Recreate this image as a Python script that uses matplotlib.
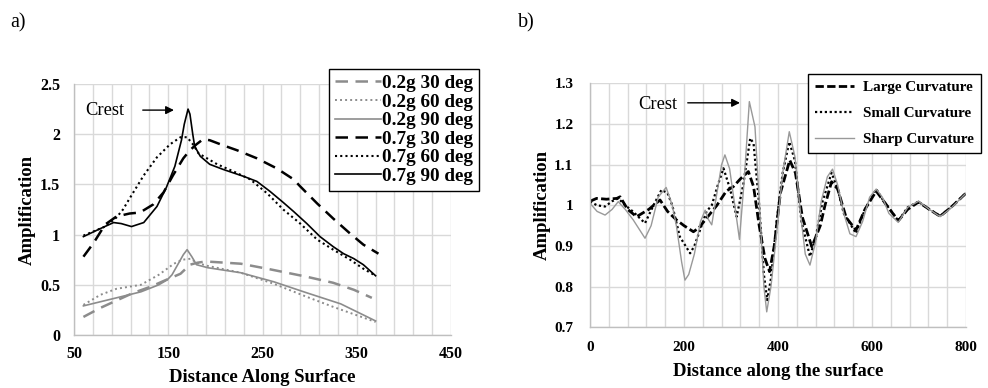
import numpy as np
import matplotlib
matplotlib.use("Agg")
import matplotlib.pyplot as plt
import matplotlib.ticker as ticker

plt.rcParams['font.family'] = ['Liberation Serif', 'DejaVu Serif']

# ---- panel a) : amplification along surface ----
g02_30_x = [60, 78, 92, 113, 131, 148, 163, 173, 181, 188, 194, 227, 255, 297, 325, 347, 366]
g02_30_y = [0.18, 0.27, 0.33, 0.42, 0.48, 0.55, 0.61, 0.70, 0.72, 0.73, 0.73, 0.71, 0.66, 0.58, 0.52, 0.45, 0.37]

g02_60_x = [60, 78, 95, 121, 140, 156, 165, 174, 180, 191, 227, 262, 297, 325, 343, 370]
g02_60_y = [0.30, 0.40, 0.46, 0.50, 0.60, 0.71, 0.75, 0.76, 0.72, 0.69, 0.62, 0.51, 0.38, 0.28, 0.22, 0.13]

g02_90_x = [60, 95, 121, 140, 149, 154, 160, 166, 170, 175, 180, 192, 227, 262, 297, 333, 370]
g02_90_y = [0.29, 0.37, 0.43, 0.50, 0.55, 0.60, 0.70, 0.80, 0.85, 0.78, 0.70, 0.67, 0.62, 0.53, 0.42, 0.31, 0.14]

g07_30_x = [60, 71, 83, 95, 109, 120, 134, 145, 155, 166, 173, 180, 187, 194, 208, 223, 244, 265, 283, 290, 308, 325, 343, 357, 373]
g07_30_y = [0.78, 0.92, 1.10, 1.18, 1.21, 1.22, 1.30, 1.42, 1.59, 1.76, 1.84, 1.90, 1.95, 1.94, 1.89, 1.84, 1.76, 1.66, 1.55, 1.48, 1.31, 1.16, 1.01, 0.90, 0.81]

g07_60_x = [60, 83, 95, 102, 109, 124, 138, 152, 163, 170, 177, 182, 202, 219, 237, 255, 272, 290, 308, 325, 343, 357, 370]
g07_60_y = [0.99, 1.08, 1.17, 1.25, 1.36, 1.59, 1.77, 1.90, 1.97, 1.97, 1.89, 1.81, 1.70, 1.63, 1.55, 1.41, 1.25, 1.11, 0.95, 0.85, 0.75, 0.66, 0.59]

g07_90_x = [60, 78, 92, 100, 111, 124, 138, 148, 157, 164, 167, 171, 173, 176, 178, 184, 194, 208, 230, 244, 258, 272, 283, 297, 311, 325, 336, 347, 357, 370]
g07_90_y = [0.98, 1.06, 1.12, 1.11, 1.08, 1.12, 1.28, 1.47, 1.68, 1.94, 2.10, 2.25, 2.20, 2.00, 1.88, 1.78, 1.70, 1.65, 1.58, 1.53, 1.43, 1.32, 1.23, 1.11, 0.98, 0.88, 0.81, 0.76, 0.70, 0.59]

# ---- panel b) : curvature comparison ----
large_x = [0, 14, 35, 57, 64, 80, 99, 125, 149, 165, 184, 200, 220, 232, 245, 270, 290, 305, 320, 337, 348, 360, 372, 382, 392,
           405, 425, 437, 452, 472, 490, 500, 514, 527, 545, 566, 585, 609, 625, 656, 676, 699, 722, 745, 770, 800]
large_y = [1.01, 1.017, 1.015, 1.017, 1.021, 0.99, 0.972, 0.99, 1.013, 0.985, 0.964, 0.95, 0.935, 0.945, 0.964, 1.0, 1.035,
           1.046, 1.065, 1.083, 1.046, 0.95, 0.87, 0.837, 0.9, 1.03, 1.111, 1.08, 0.97, 0.898, 0.95, 1.0, 1.058, 1.04, 0.97,
           0.939, 0.99, 1.035, 1.01, 0.962, 0.99, 1.008, 0.99, 0.973, 0.997, 1.03]

small_x = [0, 15, 32, 47, 60, 75, 92, 117, 135, 152, 165, 175, 191, 213, 222, 234, 248, 259, 272, 284, 298, 312, 326, 341,
           348, 360, 370, 377, 385, 397, 410, 424, 436, 450, 468, 480, 495, 514, 527, 540, 566, 585, 609, 625, 656, 676,
           699, 722, 745, 770, 800]
small_y = [1.009, 1.0, 0.997, 1.01, 1.017, 1.0, 0.984, 0.956, 1.0, 1.038, 1.03, 1.0, 0.923, 0.882, 0.9, 0.939, 0.985, 1.0,
           1.05, 1.091, 1.04, 0.972, 1.05, 1.165, 1.152, 1.0, 0.83, 0.767, 0.82, 0.96, 1.08, 1.156, 1.11, 0.96, 0.874, 0.92,
           1.01, 1.08, 1.04, 0.98, 0.931, 0.99, 1.04, 1.01, 0.962, 0.995, 1.009, 0.99, 0.974, 0.997, 1.03]

sharp_x = [0, 15, 32, 47, 60, 75, 92, 117, 130, 145, 162, 175, 184, 195, 202, 210, 222, 235, 245, 252, 259, 270, 280, 287,
           297, 308, 318, 328, 339, 351, 362, 370, 376, 385, 397, 410, 424, 436, 448, 458, 468, 480, 492, 505, 516, 527,
           540, 553, 566, 580, 595, 609, 622, 636, 656, 676, 699, 722, 745, 770, 800]
sharp_y = [1.005, 0.985, 0.976, 0.99, 1.009, 0.99, 0.964, 0.919, 0.95, 1.02, 1.044, 1.0, 0.948, 0.86, 0.816, 0.83, 0.88,
           0.96, 0.988, 0.965, 0.952, 1.03, 1.10, 1.124, 1.09, 1.0, 0.916, 1.06, 1.255, 1.193, 0.972, 0.80, 0.738, 0.80,
           0.93, 1.08, 1.181, 1.12, 0.98, 0.88, 0.853, 0.91, 1.01, 1.07, 1.089, 1.05, 0.98, 0.93, 0.923, 0.96, 1.02, 1.04,
           1.02, 0.98, 0.958, 0.995, 1.01, 0.99, 0.972, 0.995, 1.03]

gray = '#8c8c8c'
grid_c = '#d9d9d9'

fig = plt.figure(figsize=(9.88, 3.88), dpi=100)
ax1 = fig.add_axes([0.0749, 0.1366, 0.3816, 0.6469])
ax2 = fig.add_axes([0.5972, 0.1564, 0.3805, 0.6289])


def style_axes(ax):
    for s in ['top', 'right']:
        ax.spines[s].set_visible(False)
    for s in ['left', 'bottom']:
        ax.spines[s].set_color('#bfbfbf')
        ax.spines[s].set_linewidth(1.0)
    ax.set_axisbelow(True)
    ax.tick_params(which='both', length=0)
    for lab in ax.get_xticklabels() + ax.get_yticklabels():
        lab.set_fontweight('bold')


# panel a
ax1.plot(g02_30_x, g02_30_y, color=gray, lw=1.8, dashes=(5, 3), label='0.2g 30 deg')
ax1.plot(g02_60_x, g02_60_y, color=gray, lw=1.4, linestyle=(0, (1, 1.6)), label='0.2g 60 deg')
ax1.plot(g02_90_x, g02_90_y, color=gray, lw=1.2, label='0.2g 90 deg')
ax1.plot(g07_30_x, g07_30_y, color='black', lw=1.8, dashes=(5, 3), label='0.7g 30 deg')
ax1.plot(g07_60_x, g07_60_y, color='black', lw=1.5, linestyle=(0, (1, 1.5)), label='0.7g 60 deg')
ax1.plot(g07_90_x, g07_90_y, color='black', lw=1.2, label='0.7g 90 deg')

ax1.set_xlim(50, 450)
ax1.set_ylim(0, 2.5)
ax1.xaxis.set_major_locator(ticker.FixedLocator([50, 150, 250, 350, 450]))
ax1.xaxis.set_minor_locator(ticker.FixedLocator(np.arange(50, 451, 20)))
ax1.yaxis.set_major_locator(ticker.MultipleLocator(0.5))
ax1.yaxis.set_major_formatter(ticker.FuncFormatter(lambda v, p: f'{v:g}'))
ax1.grid(axis='x', which='both', color=grid_c, lw=1.0)
ax1.grid(axis='y', which='major', color=grid_c, lw=1.0)
ax1.tick_params(axis='both', labelsize=11.5)
ax1.tick_params(axis='x', pad=8)
ax1.tick_params(axis='y', pad=10)
style_axes(ax1)
ax1.set_xlabel('Distance Along Surface', fontsize=13.5, fontweight='bold')
ax1.set_ylabel('Amplification', fontsize=13.5, fontweight='bold')
ax1.xaxis.set_label_coords(0.5, -0.171)
ax1.xaxis.label.set_va('center')
ax1.yaxis.set_label_coords(-0.125, 0.5)
ax1.yaxis.label.set_va('center')

ax1.annotate('', xy=(159, 2.24), xytext=(120, 2.24),
             arrowprops=dict(arrowstyle='-|>', color='black', lw=1.0, mutation_scale=12))
ax1.text(103, 2.24, 'Crest', ha='right', va='center', fontsize=13.3)

leg1 = ax1.legend(loc='upper left', bbox_to_anchor=(329 / 988, 1 - 69 / 388), bbox_transform=fig.transFigure,
                  prop={'weight': 'bold', 'size': 13.8}, frameon=True, fancybox=False,
                  edgecolor='black', handlelength=2.4, handletextpad=0.05, labelspacing=0.06,
                  borderpad=0.3, borderaxespad=0)
leg1.get_frame().set_linewidth(1.0)
leg1.get_frame().set_alpha(1)

# panel b
ax2.plot(large_x, large_y, color='black', lw=2.0, dashes=(3, 1.2), label='Large Curvature')
ax2.plot(small_x, small_y, color='black', lw=1.6, linestyle=(0, (1, 1.2)), label='Small Curvature')
ax2.plot(sharp_x, sharp_y, color='#999999', lw=1.0, label='Sharp Curvature')

ax2.set_xlim(0, 800)
ax2.set_ylim(0.7, 1.3)
ax2.xaxis.set_major_locator(ticker.MultipleLocator(200))
ax2.xaxis.set_minor_locator(ticker.MultipleLocator(40))
ax2.yaxis.set_major_locator(ticker.MultipleLocator(0.1))
ax2.yaxis.set_major_formatter(ticker.FuncFormatter(lambda v, p: f'{round(v, 1):g}'))
ax2.grid(axis='x', which='both', color=grid_c, lw=1.0)
ax2.grid(axis='y', which='major', color=grid_c, lw=1.0)
ax2.tick_params(axis='both', labelsize=11)
ax2.tick_params(axis='x', pad=10)
ax2.tick_params(axis='y', pad=12)
style_axes(ax2)
ax2.set_xlabel('Distance along the surface', fontsize=13.5, fontweight='bold')
ax2.set_ylabel('Amplification', fontsize=13.5, fontweight='bold')
ax2.xaxis.set_label_coords(0.5, -0.183)
ax2.xaxis.label.set_va('center')
ax2.yaxis.set_label_coords(-0.128, 0.5)
ax2.yaxis.label.set_va('center')

ax2.annotate('', xy=(325, 1.252), xytext=(202, 1.252),
             arrowprops=dict(arrowstyle='-|>', color='black', lw=1.0, mutation_scale=12))
ax2.text(185, 1.249, 'Crest', ha='right', va='center', fontsize=13.3)

leg2 = ax2.legend(loc='upper left', bbox_to_anchor=(808 / 988, 1 - 74 / 388), bbox_transform=fig.transFigure,
                  prop={'weight': 'bold', 'size': 10.9}, frameon=True, fancybox=False,
                  edgecolor='black', handlelength=2.6, handletextpad=0.6, labelspacing=0.82,
                  borderpad=0.45, borderaxespad=0)
leg2.get_frame().set_linewidth(1.0)
leg2.get_frame().set_alpha(1)

fig.text(10 / 988, 1 - 23 / 388, 'a)', fontsize=14.5, ha='left', va='center')
fig.text(518 / 988, 1 - 23 / 388, 'b)', fontsize=14.5, ha='left', va='center')

fig.savefig('out.png', dpi=100)
